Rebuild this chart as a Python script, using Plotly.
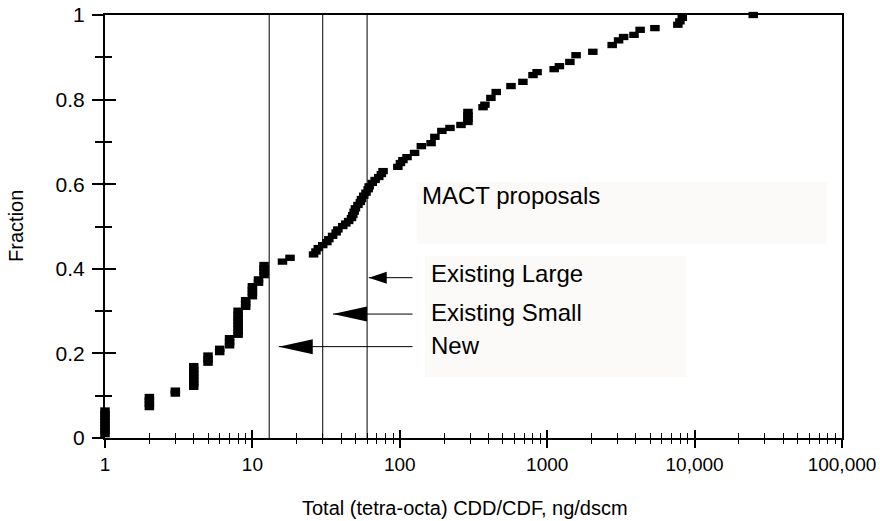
import plotly.graph_objects as go

# Sample concentrations (ng/dscm) and their cumulative fraction
conc = [
    1, 1, 1, 1, 1, 1, 1, 1,
    2, 2, 2, 2,
    3, 3,
    4, 4, 4, 4, 4, 4, 4,
    5, 5, 5,
    6, 6,
    7, 7, 7,
    8, 8, 8, 8, 8, 8, 8, 8,
    9, 9, 9,
    10, 10, 10, 10,
    11, 11,
    12, 12, 12, 12,
    16, 18, 26, 27,
    28, 30, 32, 33, 35, 37, 38, 41, 43, 45, 47, 48, 49, 50, 52, 54,
    55, 57, 59, 61, 62, 65, 68, 72, 75, 77,
    97, 101, 105, 112, 126, 140, 163, 173, 193, 219, 260,
    290, 290, 290, 290,
    367, 378, 415, 451, 568, 684, 801, 854, 1115, 1210, 1425, 1570,
    2040, 2760, 3050, 3300, 3880, 4270, 5380, 7700, 7950, 8250, 25000,
]
frac = [
    0.009, 0.017, 0.025, 0.033, 0.041, 0.049, 0.057, 0.065,
    0.073, 0.081, 0.089, 0.097,
    0.105, 0.112,
    0.121, 0.129, 0.137, 0.145, 0.153, 0.161, 0.170,
    0.178, 0.186, 0.195,
    0.203, 0.211,
    0.219, 0.227, 0.236,
    0.244, 0.252, 0.260, 0.268, 0.276, 0.284, 0.292, 0.301,
    0.310, 0.318, 0.326,
    0.335, 0.343, 0.351, 0.359,
    0.367, 0.375,
    0.385, 0.393, 0.401, 0.409,
    0.417, 0.426, 0.434, 0.441,
    0.449, 0.456, 0.463, 0.470, 0.478, 0.486, 0.493, 0.501, 0.507, 0.513,
    0.520, 0.527, 0.535, 0.543, 0.551, 0.558,
    0.565, 0.573, 0.580, 0.588, 0.595, 0.603, 0.610, 0.617, 0.624, 0.631,
    0.641, 0.650, 0.657, 0.664, 0.674, 0.690, 0.697, 0.712, 0.726, 0.733, 0.740,
    0.747, 0.755, 0.763, 0.771,
    0.782, 0.788, 0.804, 0.818, 0.832, 0.842, 0.858, 0.865, 0.872, 0.879, 0.889, 0.905,
    0.913, 0.929, 0.940, 0.948, 0.953, 0.965, 0.969, 0.977, 0.985, 0.993, 1.000,
]

# MACT proposal limits and the arrows pointing at them
limit_values = [13, 30, 60]
limit_labels = ["New", "Existing Small", "Existing Large"]
arrow_tips = [15.1, 35.2, 61.6]
arrow_levels = [0.216, 0.293, 0.379]
arrow_tail = 122
head_length = [34, 34, 18]
head_half = [7.5, 7.5, 6]
label_levels = [0.218, 0.296, 0.388]

x_tickvals = [1, 10, 100, 1000, 10000, 100000]
x_ticktext = ["1", "10", "100", "1000", "10,000", "100,000"]
y_tickvals = [0, 0.2, 0.4, 0.6, 0.8, 1.0]
y_ticktext = ["0", "0.2", "0.4", "0.6", "0.8", "1"]
x_minor = [m * 10 ** d for d in range(5) for m in range(2, 10)]
y_minor = [0.1, 0.3, 0.5, 0.7, 0.9]

FONT = "Liberation Sans, Arial, Helvetica, sans-serif"
BOX = "#fbfaf8"

fig = go.Figure()

for v in limit_values:
    fig.add_trace(go.Scatter(
        x=[v, v], y=[0, 1], mode="lines",
        line=dict(color="black", width=1),
        hoverinfo="skip", showlegend=False,
    ))

fig.add_trace(go.Scatter(
    x=conc, y=frac, mode="markers",
    marker=dict(symbol="line-ew", size=6.8, line=dict(color="black", width=6.3)),
    cliponaxis=False, showlegend=False,
))

# companion axes carry the inward half of every tick
fig.add_trace(go.Scatter(
    x=[1], y=[0], xaxis="x2", yaxis="y2", mode="markers",
    marker=dict(opacity=0), hoverinfo="skip", showlegend=False,
))

shapes = [
    dict(type="rect", xref="paper", yref="paper", x0=0.423, x1=0.979, y0=0.459, y1=0.605,
         fillcolor=BOX, line=dict(width=0), layer="below"),
    dict(type="rect", xref="paper", yref="paper", x0=0.434, x1=0.789, y0=0.144, y1=0.430,
         fillcolor=BOX, line=dict(width=0), layer="below"),
]
for tip, lvl, hl, hh in zip(arrow_tips, arrow_levels, head_length, head_half):
    shapes.append(dict(type="line", xref="x", yref="y", x0=tip, x1=arrow_tail, y0=lvl, y1=lvl,
                       line=dict(color="black", width=1)))
    shapes.append(dict(type="path", xref="x", yref="y", xsizemode="pixel", ysizemode="pixel",
                       xanchor=tip, yanchor=lvl,
                       path=f"M0,0 L{hl},{hh} L{hl},{-hh} Z",
                       fillcolor="black", line=dict(width=0)))

annotations = [
    dict(text="MACT proposals", xref="paper", yref="paper", x=0.428, y=0.574,
         xanchor="left", yanchor="middle", showarrow=False, font=dict(size=24)),
    dict(text="Total (tetra-octa) CDD/CDF, ng/dscm", xref="paper", yref="paper",
         x=0.488, y=0, yshift=-70, xanchor="center", yanchor="middle",
         showarrow=False, font=dict(size=20)),
    dict(text="Fraction", xref="paper", yref="paper", x=-0.121, y=0.501,
         xanchor="center", yanchor="middle", textangle=-90,
         showarrow=False, font=dict(size=20)),
]
for lab, lvl in zip(limit_labels, label_levels):
    annotations.append(dict(text=lab, xref="paper", yref="paper", x=0.440, y=lvl,
                            xanchor="left", yanchor="middle", showarrow=False,
                            font=dict(size=24)))

bare = dict(showgrid=False, zeroline=False, automargin=False)

fig.update_layout(
    width=880, height=521,
    margin=dict(l=105, r=38, t=15, b=83, autoexpand=False),
    paper_bgcolor="white", plot_bgcolor="white",
    font=dict(family=FONT, color="black", size=18),
    showlegend=False,
    xaxis=dict(
        type="log", range=[0, 5], tickmode="array", tickvals=x_tickvals, ticktext=x_ticktext,
        ticks="outside", ticklen=8, tickwidth=1.5, tickcolor="black",
        minor=dict(tickmode="array", tickvals=x_minor, ticks="outside", ticklen=4,
                   tickwidth=1, tickcolor="black", showgrid=False),
        showline=True, linecolor="black", linewidth=2, mirror=True,
        tickfont=dict(size=19), **bare,
    ),
    xaxis2=dict(
        type="log", range=[0, 5], overlaying="x", anchor="y",
        tickmode="array", tickvals=x_tickvals, ticks="inside", ticklen=8, tickwidth=1.5,
        tickcolor="black",
        minor=dict(tickmode="array", tickvals=x_minor, ticks="inside", ticklen=5,
                   tickwidth=1, tickcolor="black", showgrid=False),
        showticklabels=False, showline=False, **bare,
    ),
    yaxis=dict(
        range=[0, 1], tickmode="array", tickvals=y_tickvals, ticktext=y_ticktext,
        ticks="outside", ticklen=11, tickwidth=1.5, tickcolor="black",
        minor=dict(tickmode="array", tickvals=y_minor, ticks="outside", ticklen=8,
                   tickwidth=1.5, tickcolor="black", showgrid=False),
        showline=True, linecolor="black", linewidth=2, mirror=True,
        tickfont=dict(size=21), ticklabelstandoff=3, **bare,
    ),
    yaxis2=dict(
        range=[0, 1], overlaying="y", anchor="x",
        tickmode="array", tickvals=y_tickvals, ticks="inside", ticklen=11, tickwidth=1.5,
        tickcolor="black",
        minor=dict(tickmode="array", tickvals=y_minor, ticks="inside", ticklen=7,
                   tickwidth=1.5, tickcolor="black", showgrid=False),
        showticklabels=False, showline=False, **bare,
    ),
    shapes=shapes,
    annotations=annotations,
)

fig.write_html("out.html")
